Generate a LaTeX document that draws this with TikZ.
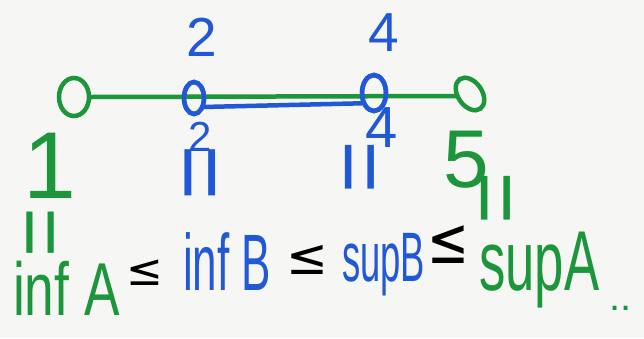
\documentclass[tikz,border=0pt]{standalone}
\usepackage{fontspec}
\setmainfont{Liberation Sans}
\newfontfamily\symfont{DejaVu Sans}
\usetikzlibrary{shapes.geometric}
\definecolor{pengreen}{RGB}{28,150,58}
\definecolor{penblue}{RGB}{32,88,215}
\definecolor{paper}{RGB}{246,246,244}

\tikzset{
  pen/.style={line width=4.5pt, line cap=round},
  ring/.style={draw, ellipse, line width=4.5pt, inner sep=0pt},
  lbl/.style={inner sep=0pt, font=\fontsize{#1}{#1}\selectfont},
  vbars/.style={inner sep=0pt, rotate=90, font=\fontsize{#1}{#1}\selectfont},
  word/.style={inner sep=0pt, anchor=base west},
  leq/.style={inner sep=0pt, font=\symfont\fontsize{#1}{#1}\selectfont},
}

\begin{document}
\begin{tikzpicture}[x=1pt,y=-1pt]
\useasboundingbox[fill=paper] (0,0) rectangle (644,338);

% points on the line
\node[ring, pengreen, minimum width=30pt, minimum height=38pt] (c1) at (74,97) {};
\node[ring, pengreen, minimum width=24pt, minimum height=36pt, rotate=35] (c4) at (470,94) {};
\coordinate (p4) at (457,96);
\node[ring, penblue, minimum width=20pt, minimum height=32pt] (c2) at (194,98) {};
\node[ring, penblue, minimum width=24pt, minimum height=36pt] (c3) at (374,93) {};

% outer interval (green) and inner interval (blue)
\draw[pen, pengreen] (c1.east) -- (p4);
\node[ring, penblue, minimum width=20pt, minimum height=32pt] at (c2) {};
\node[ring, penblue, minimum width=24pt, minimum height=36pt] at (c3) {};
\draw[pen, penblue] (c2.-40) -- (c3.-140);

% numbers above and below
\node[lbl=55, penblue] (t2) at (202,37) {2};
\node[lbl=55, penblue] (t4) at (384,33) {4};
\node[lbl=95, pengreen] (b1) at (50,166) {1};
\node[lbl=42, penblue] (b2) at (200,137) {2};
\node[lbl=58, penblue] (b4) at (382,128) {4};
\node[lbl=82, pengreen] (b5) at (466,160) {5};

% equality marks
\node[vbars=85, pengreen] (e1) at (48,233) {=};
\node[vbars=95, penblue] (e2) at (208,173) {=};
\node[vbars=90, penblue] (e3) at (367,167) {=};
\node[vbars=90, pengreen] (e4) at (503,198) {=};

% inequality chain
\node[word, pengreen, font=\fontsize{75}{75}\selectfont, xscale=0.71] (infA) at (13,315) {inf A};
\node[leq=44] (l1) at (145,273) {≤};
\node[word, penblue, font=\fontsize{80}{80}\selectfont, xscale=0.55] (infB) at (183,290) {inf B};
\node[leq=50] (l2) at (307,260) {≤};
\node[word, penblue, font=\fontsize{70}{70}\selectfont, xscale=0.52] (supB) at (342,281) {supB};
\node[leq=50, yscale=1.3] (l3) at (448,245) {≤};
\node[word, pengreen, font=\fontsize{85}{85}\selectfont, xscale=0.62] (supA) at (479,290) {supA};
\node[word, pengreen, font=\fontsize{40}{40}\selectfont] (dots) at (609,310) {..};
\end{tikzpicture}
\end{document}
